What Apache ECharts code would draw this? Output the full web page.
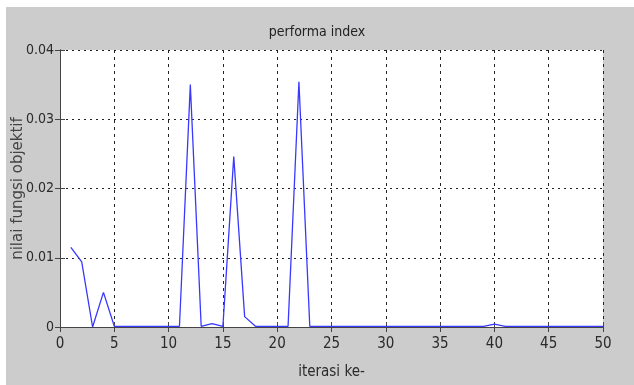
<!DOCTYPE html>
<html>
<head>
<meta charset="utf-8">
<script src="https://cdn.jsdelivr.net/npm/echarts@6/dist/echarts.min.js"></script>
<style>
  html, body { margin: 0; padding: 0; background: #fff; }
  #main { width: 634px; height: 385px; }
</style>
</head>
<body>
<div id="main"></div>
<script>
var iterasi = [];
for (let i = 1; i <= 50; ++i) iterasi.push(i);

var nilai = [
  0.0115, 0.0094, 0.0000, 0.0050, 0.0001, 0.0001, 0.0001, 0.0001, 0.0001, 0.0001,
  0.0001, 0.0350, 0.0001, 0.0005, 0.0001, 0.0246, 0.0015, 0.0001, 0.0001, 0.0001,
  0.0001, 0.0354, 0.0001, 0.0001, 0.0001, 0.0001, 0.0001, 0.0001, 0.0001, 0.0001,
  0.0001, 0.0001, 0.0001, 0.0001, 0.0001, 0.0001, 0.0001, 0.0001, 0.0001, 0.0004,
  0.0001, 0.0001, 0.0001, 0.0001, 0.0001, 0.0001, 0.0001, 0.0001, 0.0001, 0.0001
];

var xTicks = [0, 5, 10, 15, 20, 25, 30, 35, 40, 45, 50];
var yTicks = [0, 0.01, 0.02, 0.03, 0.04];

var dom = document.getElementById('main');
var chart = echarts.init(dom, null, { renderer: 'canvas' });

var narrow = '"DejaVu Sans Condensed", "Liberation Sans Narrow", sans-serif';
var labelFont = {
  color: '#2a2a2a',
  fontFamily: narrow,
  fontSize: 15
};

var option = {
  backgroundColor: '#fff',
  animation: false,
  graphic: [
    {
      type: 'rect',
      left: 6, top: 7,
      shape: { width: 628, height: 378 },
      style: { fill: '#cccccc' },
      z: -10
    }
  ],
  title: {
    text: 'performa index',
    left: 'center',
    top: 20,
    textStyle: {
      color: '#222',
      fontWeight: 'normal',
      fontFamily: narrow,
      fontSize: 14
    }
  },
  grid: {
    left: 60, right: 31, top: 50, bottom: 58,
    outerBoundsMode: 'none',
    containLabel: false,
    show: true,
    backgroundColor: '#fff',
    borderWidth: 0
  },
  xAxis: [
    {
      type: 'value',
      min: 0, max: 50, interval: 5,
      name: 'iterasi ke-',
      nameLocation: 'middle',
      nameGap: 38,
      nameMoveOverlap: false,
      nameTextStyle: labelFont,
      axisLine: { onZero: false, lineStyle: { color: '#444', width: 1 } },
      axisTick: { inside: true, length: 5, lineStyle: { color: '#444' } },
      axisLabel: Object.assign({ margin: 10 }, labelFont),
      splitLine: { show: true, lineStyle: { color: '#222', type: [3, 4], width: 1 } }
    },
    {
      type: 'value',
      position: 'top',
      min: 0, max: 50, interval: 5,
      axisLine: { show: true, lineStyle: { color: '#444', width: 1 } },
      axisTick: { show: true, inside: true, length: 5, lineStyle: { color: '#444' } },
      axisLabel: { show: false },
      splitLine: { show: false }
    }
  ],
  yAxis: [
    {
      type: 'value',
      min: 0, max: 0.04, interval: 0.01,
      name: 'nilai fungsi objektif',
      nameLocation: 'middle',
      nameGap: 34,
      nameMoveOverlap: false,
      nameTextStyle: {
        color: '#444',
        fontFamily: '"DejaVu Sans", sans-serif',
        fontSize: 15
      },
      axisLine: { show: true, lineStyle: { color: '#444', width: 1 } },
      axisTick: { show: true, inside: true, length: 5, lineStyle: { color: '#444' } },
      axisLabel: {
        margin: 6,
        color: '#2a2a2a',
        fontFamily: narrow,
        fontSize: 14,
        formatter: function (v) { return yTicks.indexOf(v) >= 0 ? String(+v.toFixed(2)) : ''; }
      },
      splitLine: { show: true, lineStyle: { color: '#222', type: [2, 4], width: 1 } }
    },
    {
      type: 'value',
      position: 'right',
      min: 0, max: 0.04, interval: 0.01,
      axisLine: { show: true, lineStyle: { color: '#444', width: 1 } },
      axisTick: { show: true, inside: true, length: 5, lineStyle: { color: '#444' } },
      axisLabel: { show: false },
      splitLine: { show: false }
    }
  ],
  series: [
    {
      type: 'line',
      data: iterasi.map(function (x, i) { return [x, nilai[i]]; }),
      showSymbol: false,
      lineStyle: { color: '#3838ff', width: 1.3 },
      z: 3
    }
  ]
};

chart.setOption(option);
window.addEventListener('resize', chart.resize);
</script>
</body>
</html>
